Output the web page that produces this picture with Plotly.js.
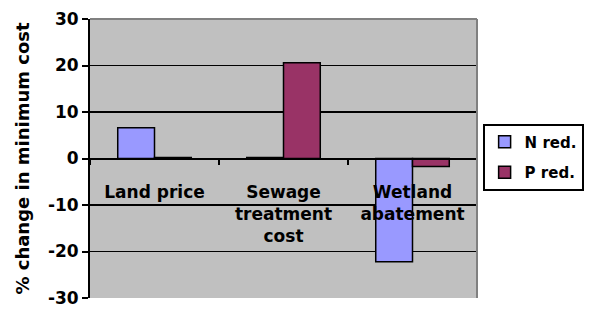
<!DOCTYPE html>
<html><head><meta charset="utf-8">
<script src="https://cdn.plot.ly/plotly-3.0.1.min.js"></script>
<style>html,body{margin:0;padding:0;background:#fff}#chart{width:590px;height:309px}</style>
</head><body><div id="chart"></div>
<script>
const categories = ["Land price", "Sewage<br>treatment<br>cost", "Wetland<br>abatement"];
const seriesNames = ["N red.", "P red."];
const nRed = [6.6, 0.2, -22.2];
const pRed = [0.2, 20.6, -1.7];
const yTicks = [-30, -20, -10, 0, 10, 20, 30];
const yTitle = "% change in minimum cost";

const fam = "DejaVu Sans, sans-serif";
const bfont = {family: fam, size: 17, color: "#000", weight: 700};
const bold = s => "<b>" + s + "</b>";
const traces = [
  {type: "bar", name: bold(seriesNames[0]), legendgroup: "a", x: categories, y: nRed,
   marker: {color: "#9999FF", line: {color: "#000", width: 1.5}}},
  {type: "bar", name: bold(seriesNames[1]), legendgroup: "b", x: categories, y: pRed,
   marker: {color: "#993366", line: {color: "#000", width: 1.5}}}
];
const layout = {
  width: 590, height: 309,
  margin: {l: 90, r: 113, t: 19, b: 11},
  paper_bgcolor: "#fff", plot_bgcolor: "#C0C0C0",
  font: bfont,
  barmode: "group", bargap: 0.43, bargroupgap: 0,
  showlegend: true,
  legend: {xref: "container", yref: "container", x: 0.818, y: 0.6,
    xanchor: "left", yanchor: "top",
    bgcolor: "#fff", bordercolor: "#000", borderwidth: 2,
    font: {family: fam, size: 15, color: "#000", weight: 700},
    itemwidth: 30, traceorder: "grouped", tracegroupgap: 8},
  xaxis: {type: "category", anchor: "free", position: 0.5,
    tickvals: categories, ticktext: categories.map(bold),
    showline: true, linecolor: "#000", linewidth: 2,
    ticks: "outside", tickson: "boundaries", ticklen: 5, tickcolor: "#000", tickwidth: 2,
    ticklabelstandoff: 18,
    showgrid: false, zeroline: false,
    tickfont: bfont},
  yaxis: {range: [-30, 30], tickvals: yTicks, ticktext: yTicks.map(v => bold(String(v))),
    showline: true, linecolor: "#000", linewidth: 2,
    ticks: "outside", ticklen: 6, tickcolor: "#000", tickwidth: 2,
    showgrid: true, gridcolor: "#000", gridwidth: 1.2,
    zeroline: false,
    tickfont: bfont,
    title: {text: bold(yTitle), standoff: 14, font: {family: fam, size: 18, color: "#000", weight: 700}}},
  shapes: [
    {type: "line", xref: "paper", yref: "paper", x0: 0, x1: 1, y0: 1, y1: 1,
     line: {color: "#808080", width: 2}, layer: "above"},
    {type: "line", xref: "paper", yref: "paper", x0: 1, x1: 1, y0: 0, y1: 1,
     line: {color: "#808080", width: 2}, layer: "above"}
  ]
};
Plotly.newPlot("chart", traces, layout, {displayModeBar: false, staticPlot: true});
</script></body></html>
